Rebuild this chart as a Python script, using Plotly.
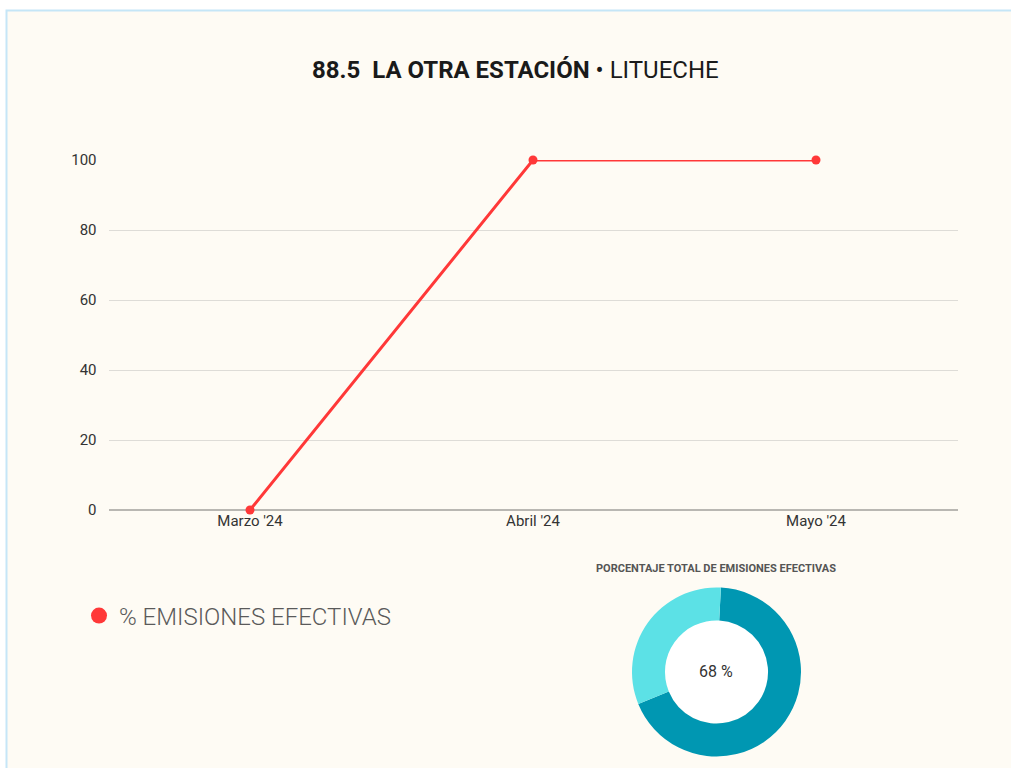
import plotly.graph_objects as go

months = ["Marzo '24", "Abril '24", "Mayo '24"]
efectivas = [0, 100, 100]
y_ticks = [0, 20, 40, 60, 80, 100]

donut_labels = ["Efectivas", "No efectivas"]
donut_values = [68, 32]
donut_colors = ["#0097b2", "#5ce1e6"]

W, H = 1011, 768
CREAM = "#fefbf4"
RED = "#ff3838"


def px_x(v):
    return v / W


def px_y(v):
    return 1 - v / H


fig = go.Figure()

# ── serie principal ──
fig.add_trace(
    go.Scatter(
        x=months,
        y=efectivas,
        mode="lines+markers",
        line=dict(color=RED, width=3),
        marker=dict(color=RED, size=9),
        cliponaxis=False,
        showlegend=False,
        hoverinfo="x+y",
    )
)

# ── entrada de leyenda (solo el punto) ──
fig.add_trace(
    go.Scatter(
        x=[None],
        y=[None],
        mode="markers",
        marker=dict(color=RED, size=20),
        name="% EMISIONES EFECTIVAS",
    )
)

# ── dona ──
fig.add_trace(
    go.Pie(
        labels=donut_labels,
        values=donut_values,
        marker=dict(colors=donut_colors, line=dict(width=0)),
        hole=0.61,
        sort=False,
        direction="clockwise",
        rotation=3,
        textinfo="none",
        showlegend=False,
        domain=dict(x=[px_x(632), px_x(801)], y=[px_y(757), px_y(587)]),
    )
)

fig.update_layout(
    width=W,
    height=H,
    margin=dict(l=0, r=0, t=0, b=0, autoexpand=False),
    paper_bgcolor="white",
    plot_bgcolor=CREAM,
    font=dict(family="Roboto", color="#333333"),
    xaxis=dict(
        domain=[px_x(108.5), px_x(957.5)],
        range=[-0.5, 2.5],
        automargin=False,
        showgrid=False,
        showline=False,
        zeroline=False,
        ticks="",
        tickfont=dict(size=15, color="#333333"),
        fixedrange=True,
    ),
    yaxis=dict(
        domain=[px_y(510), px_y(160)],
        range=[0, 100],
        automargin=False,
        tickvals=y_ticks,
        gridcolor="#dedcd7",
        gridwidth=1,
        zeroline=True,
        zerolinecolor="#b9b7b2",
        zerolinewidth=2,
        showline=False,
        ticks="",
        ticklabelstandoff=11,
        tickfont=dict(size=15, color="#333333"),
        fixedrange=True,
    ),
    legend=dict(
        x=px_x(79),
        y=px_y(616),
        xanchor="left",
        yanchor="middle",
        bgcolor="rgba(0,0,0,0)",
        font=dict(size=24, color="#5a5a5a", family="Roboto", weight=300),
        itemsizing="trace",
    ),
    shapes=[
        # marco de la página
        dict(
            type="rect",
            xref="paper",
            yref="paper",
            x0=px_x(6.5),
            x1=px_x(1030),
            y0=px_y(800),
            y1=px_y(10.5),
            fillcolor=CREAM,
            line=dict(color="#c5e6f7", width=2),
            layer="below",
        ),
        # centro blanco de la dona
        dict(
            type="circle",
            xref="paper",
            yref="paper",
            x0=px_x(665),
            x1=px_x(768),
            y0=px_y(723),
            y1=px_y(620),
            fillcolor="white",
            line=dict(width=0),
            layer="below",
        ),
    ],
    annotations=[
        dict(
            text="<b>88.5  LA OTRA ESTACIÓN</b> • LITUECHE",
            xref="paper",
            yref="paper",
            x=px_x(515),
            y=px_y(70),
            xanchor="center",
            yanchor="middle",
            showarrow=False,
            font=dict(size=24, color="#1a1a1a", family="Roboto"),
        ),
        dict(
            text="<b>PORCENTAJE TOTAL DE EMISIONES EFECTIVAS</b>",
            xref="paper",
            yref="paper",
            x=px_x(716),
            y=px_y(568),
            xanchor="center",
            yanchor="middle",
            showarrow=False,
            font=dict(size=11, color="#555555"),
        ),
        dict(
            text=f"{donut_values[0]} %",
            xref="paper",
            yref="paper",
            x=px_x(716),
            y=px_y(671),
            xanchor="center",
            yanchor="middle",
            showarrow=False,
            font=dict(size=16, color="#333333"),
        ),
    ],
)

# la figura fija en la esquina, sin márgenes del navegador
fig.write_html(
    "out.html",
    config={"displayModeBar": False},
    post_script=(
        "var gd=document.getElementById('{plot_id}');"
        "gd.style.position='fixed';gd.style.top='0';gd.style.left='0';"
        "document.body.style.margin='0';"
    ),
)
